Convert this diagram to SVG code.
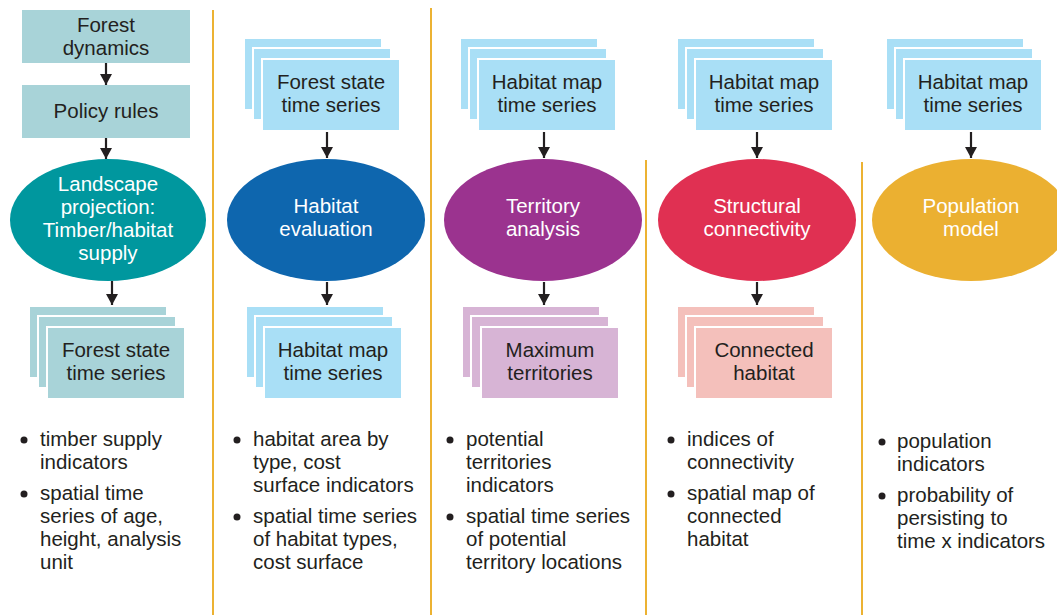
<svg xmlns="http://www.w3.org/2000/svg" width="1057" height="615" viewBox="0 0 1057 615">
<style>
text{font-family:"Liberation Sans",Arial,sans-serif;font-size:20.5px;fill:#231f20}
.c{text-anchor:middle}
.w{fill:#ffffff}
.sep{stroke:#ecb232;stroke-width:2;fill:none}
.teal{fill:#a8d3d8}
.lb{fill:#a9dff6;stroke:#fff;stroke-width:2}
.tl{fill:#a8d3d8;stroke:#fff;stroke-width:2}
.lav{fill:#d7b4d5;stroke:#fff;stroke-width:2}
.pk{fill:#f4c0bb;stroke:#fff;stroke-width:2}
.ar{stroke:#231f20;stroke-width:2.2;fill:none;marker-end:url(#ah)}
.dot{fill:#231f20}
</style>
<defs>
<marker id="ah" viewBox="0 0 11 12" refX="11" refY="6" markerWidth="11" markerHeight="12" markerUnits="userSpaceOnUse" orient="auto">
<path d="M0,0 L11,6 L0,12 z" fill="#231f20"/>
</marker>
</defs>
<g id="separators">
<line class="sep" x1="213" y1="10" x2="213" y2="615"/>
<line class="sep" x1="431" y1="8" x2="431" y2="615"/>
<line class="sep" x1="646" y1="160" x2="646" y2="615"/>
<line class="sep" x1="862" y1="162" x2="862" y2="615"/>
</g>
<g id="connectors">
<line class="ar" x1="106" y1="63" x2="106" y2="85"/>
<line class="ar" x1="106" y1="138" x2="106" y2="159"/>
<line class="ar" x1="112" y1="281" x2="112" y2="305"/>
<line class="ar" x1="327" y1="131" x2="327" y2="158"/>
<line class="ar" x1="327" y1="282" x2="327" y2="305"/>
<line class="ar" x1="544" y1="131" x2="544" y2="158"/>
<line class="ar" x1="544" y1="282" x2="544" y2="305"/>
<line class="ar" x1="757" y1="131" x2="757" y2="158"/>
<line class="ar" x1="757" y1="282" x2="757" y2="305"/>
<line class="ar" x1="971" y1="131" x2="971" y2="158"/>
</g>
<g id="forest-dynamics">
<rect class="teal" x="22" y="10" width="168" height="53"/>
<text class="c" x="106" y="32">Forest</text>
<text class="c" x="106" y="55">dynamics</text>
</g>
<g id="policy-rules">
<rect class="teal" x="22" y="85" width="168" height="53"/>
<text class="c" x="106" y="118">Policy rules</text>
</g>
<g id="landscape-projection">
<ellipse cx="108" cy="220" rx="98" ry="61" fill="#00979e"/>
<text class="c w" x="108" y="191">Landscape</text>
<text class="c w" x="108" y="214">projection:</text>
<text class="c w" x="108" y="237">Timber/habitat</text>
<text class="c w" x="108" y="260">supply</text>
</g>
<g id="forest-state-out">
<rect class="tl" x="29" y="306" width="138" height="72"/>
<rect class="tl" x="38" y="316" width="138" height="72"/>
<rect class="tl" x="47" y="327" width="138" height="72"/>
<text class="c" x="116" y="357">Forest state</text>
<text class="c" x="116" y="380">time series</text>
</g>
<g id="forest-state-in">
<rect class="lb" x="244" y="38" width="138" height="72"/>
<rect class="lb" x="253" y="48" width="138" height="72"/>
<rect class="lb" x="262" y="59" width="138" height="72"/>
<text class="c" x="331" y="89">Forest state</text>
<text class="c" x="331" y="112">time series</text>
</g>
<g id="habitat-evaluation">
<ellipse cx="326" cy="220" rx="99" ry="61" fill="#0e66ae"/>
<text class="c w" x="326" y="213">Habitat</text>
<text class="c w" x="326" y="236">evaluation</text>
</g>
<g id="habitat-map-out">
<rect class="lb" x="246" y="306" width="138" height="72"/>
<rect class="lb" x="255" y="316" width="138" height="72"/>
<rect class="lb" x="264" y="327" width="138" height="72"/>
<text class="c" x="333" y="357">Habitat map</text>
<text class="c" x="333" y="380">time series</text>
</g>
<g id="habitat-map-3">
<rect class="lb" x="460" y="38" width="138" height="72"/>
<rect class="lb" x="469" y="48" width="138" height="72"/>
<rect class="lb" x="478" y="59" width="138" height="72"/>
<text class="c" x="547" y="89">Habitat map</text>
<text class="c" x="547" y="112">time series</text>
</g>
<g id="territory-analysis">
<ellipse cx="543" cy="220" rx="99" ry="61" fill="#9b338f"/>
<text class="c w" x="543" y="213">Territory</text>
<text class="c w" x="543" y="236">analysis</text>
</g>
<g id="maximum-territories">
<rect class="lav" x="462" y="306" width="138" height="72"/>
<rect class="lav" x="471" y="316" width="138" height="72"/>
<rect class="lav" x="481" y="327" width="138" height="72"/>
<text class="c" x="550" y="357">Maximum</text>
<text class="c" x="550" y="380">territories</text>
</g>
<g id="habitat-map-4">
<rect class="lb" x="677" y="38" width="138" height="72"/>
<rect class="lb" x="686" y="48" width="138" height="72"/>
<rect class="lb" x="695" y="59" width="138" height="72"/>
<text class="c" x="764" y="89">Habitat map</text>
<text class="c" x="764" y="112">time series</text>
</g>
<g id="structural-connectivity">
<ellipse cx="757" cy="220" rx="99" ry="61" fill="#e03052"/>
<text class="c w" x="757" y="213">Structural</text>
<text class="c w" x="757" y="236">connectivity</text>
</g>
<g id="connected-habitat">
<rect class="pk" x="677" y="306" width="138" height="72"/>
<rect class="pk" x="686" y="316" width="138" height="72"/>
<rect class="pk" x="695" y="327" width="138" height="72"/>
<text class="c" x="764" y="357">Connected</text>
<text class="c" x="764" y="380">habitat</text>
</g>
<g id="habitat-map-5">
<rect class="lb" x="886" y="38" width="138" height="72"/>
<rect class="lb" x="895" y="48" width="138" height="72"/>
<rect class="lb" x="904" y="59" width="138" height="72"/>
<text class="c" x="973" y="89">Habitat map</text>
<text class="c" x="973" y="112">time series</text>
</g>
<g id="population-model">
<ellipse cx="971" cy="220" rx="99" ry="61" fill="#ebb031"/>
<text class="c w" x="971" y="213">Population</text>
<text class="c w" x="971" y="236">model</text>
</g>
<g id="bullets-1">
<circle class="dot" cx="24" cy="440" r="3.5"/>
<text x="40" y="446">timber supply</text>
<text x="40" y="469">indicators</text>
<circle class="dot" cx="24" cy="494" r="3.5"/>
<text x="40" y="500">spatial time</text>
<text x="40" y="523">series of age,</text>
<text x="40" y="546">height, analysis</text>
<text x="40" y="569">unit</text>
</g>
<g id="bullets-2">
<circle class="dot" cx="237" cy="440" r="3.5"/>
<text x="253" y="446">habitat area by</text>
<text x="253" y="469">type, cost</text>
<text x="253" y="492">surface indicators</text>
<circle class="dot" cx="237" cy="517" r="3.5"/>
<text x="253" y="523">spatial time series</text>
<text x="253" y="546">of habitat types,</text>
<text x="253" y="569">cost surface</text>
</g>
<g id="bullets-3">
<circle class="dot" cx="450" cy="440" r="3.5"/>
<text x="466" y="446">potential</text>
<text x="466" y="469">territories</text>
<text x="466" y="492">indicators</text>
<circle class="dot" cx="450" cy="517" r="3.5"/>
<text x="466" y="523">spatial time series</text>
<text x="466" y="546">of potential</text>
<text x="466" y="569">territory locations</text>
</g>
<g id="bullets-4">
<circle class="dot" cx="671" cy="440" r="3.5"/>
<text x="687" y="446">indices of</text>
<text x="687" y="469">connectivity</text>
<circle class="dot" cx="671" cy="494" r="3.5"/>
<text x="687" y="500">spatial map of</text>
<text x="687" y="523">connected</text>
<text x="687" y="546">habitat</text>
</g>
<g id="bullets-5">
<circle class="dot" cx="882" cy="442" r="3.5"/>
<text x="897" y="448">population</text>
<text x="897" y="471">indicators</text>
<circle class="dot" cx="882" cy="496" r="3.5"/>
<text x="897" y="502">probability of</text>
<text x="897" y="525">persisting to</text>
<text x="897" y="548">time x indicators</text>
</g>
</svg>
